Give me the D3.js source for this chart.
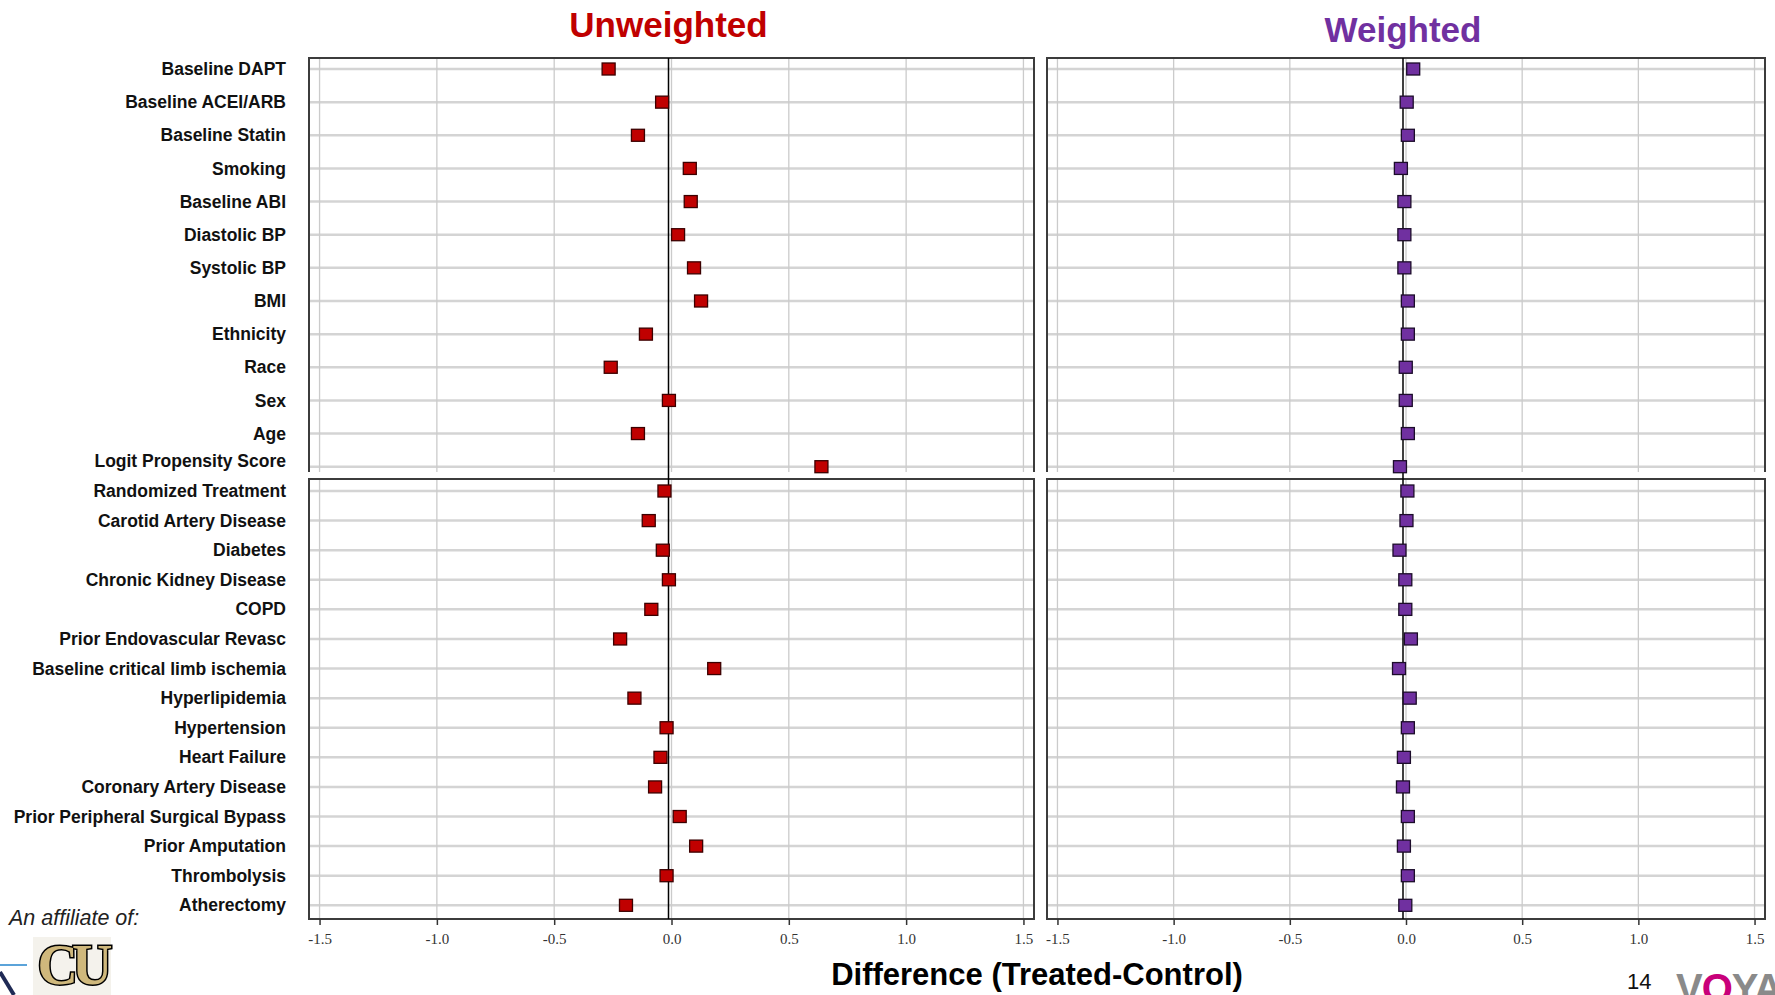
<!DOCTYPE html>
<html>
<head>
<meta charset="utf-8">
<script src="https://cdn.jsdelivr.net/npm/d3@7"></script>
<style>
  body { margin: 0; background: #fff; }
  svg { display: block; font-family: "Liberation Sans", Arial, sans-serif; }
</style>
</head>
<body>
<div id="chart"></div>
<script>
// covariates shown in the upper block (baseline characteristics)
var upperLabels = ["Baseline DAPT", "Baseline ACEI/ARB", "Baseline Statin", "Smoking", "Baseline ABI",
  "Diastolic BP", "Systolic BP", "BMI", "Ethnicity", "Race", "Sex", "Age", "Logit Propensity Score"];
var upperUnweighted = [-0.268, -0.040, -0.143, 0.078, 0.082, 0.028, 0.096, 0.126, -0.109, -0.259, -0.011, -0.143, 0.639];
var upperWeighted = [0.031, 0.003, 0.008, -0.022, -0.007, -0.007, -0.007, 0.008, 0.008, -0.001, -0.001, 0.008, -0.026];

// covariates shown in the lower block (history / treatment)
var lowerLabels = ["Randomized Treatment", "Carotid Artery Disease", "Diabetes", "Chronic Kidney Disease", "COPD",
  "Prior Endovascular Revasc", "Baseline critical limb ischemia", "Hyperlipidemia", "Hypertension", "Heart Failure",
  "Coronary Artery Disease", "Prior Peripheral Surgical Bypass", "Prior Amputation", "Thrombolysis", "Atherectomy"];
var lowerUnweighted = [-0.030, -0.097, -0.037, -0.011, -0.086, -0.219, 0.182, -0.158, -0.021, -0.047, -0.070, 0.035, 0.105, -0.021, -0.194];
var lowerWeighted = [0.006, 0.002, -0.028, -0.003, -0.003, 0.021, -0.030, 0.016, 0.008, -0.009, -0.013, 0.008, -0.009, 0.008, -0.003];

var xTicks = [-1.5, -1.0, -0.5, 0.0, 0.5, 1.0, 1.5];

var width = 1775, height = 995;

var svg = d3.select("#chart")
  .append("svg")
    .attr("width", width)
    .attr("height", height);

// vertical extents of the two blocks
var upper = {top: 58, bottom: 472, first: 69, last: 466.7};
var lower = {top: 479, bottom: 919, first: 491, last: 905.3};

var yUpper = d3.scalePoint().domain(upperLabels).range([upper.first, upper.last]);
var yLower = d3.scalePoint().domain(lowerLabels).range([lower.first, lower.last]);

// hyphen minus like the original tick labels
var fmt = d3.formatLocale({decimal: ".", thousands: ",", grouping: [3], currency: ["", ""], minus: "-"}).format(".1f");

var panels = [
  {title: "Unweighted", color: "#c00000", fill: "#c00000", stroke: "#3b0000", left: 309, right: 1034,
    upper: upperUnweighted, lower: lowerUnweighted, titleY: 37},
  {title: "Weighted", color: "#7030a0", fill: "#7030a0", stroke: "#1c0c2a", left: 1047, right: 1765,
    upper: upperWeighted, lower: lowerWeighted, titleY: 42}
];

panels.forEach(function(p) {
  var x = d3.scaleLinear().domain([-1.545, 1.545]).range([p.left, p.right]);
  var g = svg.append("g");

  // blocks: gridlines first
  [[upper, yUpper, upperLabels], [lower, yLower, lowerLabels]].forEach(function(b) {
    var blk = b[0], y = b[1], labels = b[2];

    g.selectAll(null)
      .data(labels)
      .enter().append("line")
        .attr("x1", p.left).attr("x2", p.right)
        .attr("y1", function(d) { return y(d); })
        .attr("y2", function(d) { return y(d); })
        .attr("stroke", "#d4d4d4")
        .attr("stroke-width", 2.5);

    g.selectAll(null)
      .data(xTicks)
      .enter().append("line")
        .attr("x1", function(d) { return x(d); })
        .attr("x2", function(d) { return x(d); })
        .attr("y1", blk.top).attr("y2", blk.bottom)
        .attr("stroke", "#cbcbcb")
        .attr("stroke-width", 1.3);

    // frame (upper block has no bottom edge)
    var path = blk === upper
      ? "M" + p.left + "," + blk.bottom + "V" + blk.top + "H" + p.right + "V" + blk.bottom
      : "M" + p.left + "," + blk.top + "H" + p.right + "V" + blk.bottom + "H" + p.left + "Z";
    g.append("path")
      .attr("d", path)
      .attr("fill", "none")
      .attr("stroke", "#3c3c3c")
      .attr("stroke-width", 2);
  });

  // zero reference line across both blocks
  g.append("line")
    .attr("x1", x(0) - 3).attr("x2", x(0) - 3)
    .attr("y1", upper.top).attr("y2", lower.bottom)
    .attr("stroke", "#000")
    .attr("stroke-width", 1.5);

  // square markers
  [[yUpper, upperLabels, p.upper], [yLower, lowerLabels, p.lower]].forEach(function(b) {
    var y = b[0], labels = b[1], vals = b[2];
    g.selectAll(null)
      .data(vals)
      .enter().append("rect")
        .attr("x", function(d) { return x(d) - 6.5; })
        .attr("y", function(d, i) { return y(labels[i]) - 6; })
        .attr("width", 13)
        .attr("height", 12)
        .attr("fill", p.fill)
        .attr("stroke", p.stroke)
        .attr("stroke-width", 1.3);
  });

  // x axis
  var axis = g.append("g")
    .attr("transform", "translate(0," + lower.bottom + ")")
    .call(d3.axisBottom(x).tickValues(xTicks).tickSize(6).tickPadding(8).tickFormat(fmt));
  axis.select(".domain").remove();
  axis.selectAll(".tick line").attr("stroke", "#333").attr("stroke-width", 1.5);
  axis.selectAll(".tick text")
    .attr("fill", "#333")
    .style("font-family", "'Liberation Serif', 'Times New Roman', serif")
    .style("font-size", "15px");

  // panel title
  svg.append("text")
    .attr("x", x(0) - 3)
    .attr("y", p.titleY)
    .attr("text-anchor", "middle")
    .attr("fill", p.color)
    .style("font-size", "35px")
    .style("font-weight", "bold")
    .text(p.title);
});

// row labels (the last upper label sits a little above its row, as in the original)
function rowLabels(labels, y, lastLift) {
  svg.selectAll(null)
    .data(labels)
    .enter().append("text")
      .attr("x", 286)
      .attr("y", function(d, i) { return y(d) - (i === labels.length - 1 ? lastLift : 0); })
      .attr("dy", "0.35em")
      .attr("text-anchor", "end")
      .style("font-size", "17.5px")
      .style("font-weight", "bold")
      .attr("fill", "#111")
      .text(function(d) { return d; });
}
rowLabels(upperLabels, yUpper, 6);
rowLabels(lowerLabels, yLower, 0);

// axis title
svg.append("text")
  .attr("x", 1037)
  .attr("y", 985)
  .attr("text-anchor", "middle")
  .style("font-size", "31px")
  .style("font-weight", "bold")
  .text("Difference (Treated-Control)");

// slide decorations
svg.append("text")
  .attr("x", 9).attr("y", 925)
  .style("font-size", "21.5px")
  .style("font-style", "italic")
  .attr("fill", "#222")
  .text("An affiliate of:");

svg.append("rect").attr("x", 33).attr("y", 937).attr("width", 78).attr("height", 58).attr("fill", "#f4f2ec");
svg.append("text")
  .attr("x", 72).attr("y", 984)
  .attr("text-anchor", "middle")
  .style("font-family", "'Liberation Serif', serif")
  .style("font-size", "56px")
  .style("font-weight", "bold")
  .attr("fill", "#cfb87c")
  .attr("stroke", "#000")
  .attr("stroke-width", 3)
  .attr("paint-order", "stroke")
  .attr("letter-spacing", "-6")
  .text("CU");
svg.append("line").attr("x1", 0).attr("x2", 27).attr("y1", 965).attr("y2", 965)
  .attr("stroke", "#5ba3d9").attr("stroke-width", 2);
svg.append("line").attr("x1", 0).attr("x2", 14).attr("y1", 972).attr("y2", 995)
  .attr("stroke", "#1f2a55").attr("stroke-width", 4);

svg.append("text")
  .attr("x", 1627).attr("y", 989)
  .style("font-size", "22px")
  .attr("fill", "#111")
  .text("14");

var logo = svg.append("text")
  .attr("x", 1676).attr("y", 1002)
  .style("font-size", "40px")
  .style("font-weight", "bold")
  .attr("letter-spacing", "-1");
logo.append("tspan").attr("fill", "#8a8a8a").text("V");
logo.append("tspan").attr("fill", "#c8007a").text("O");
logo.append("tspan").attr("fill", "#8a8a8a").text("YAGER");
</script>
</body>
</html>
